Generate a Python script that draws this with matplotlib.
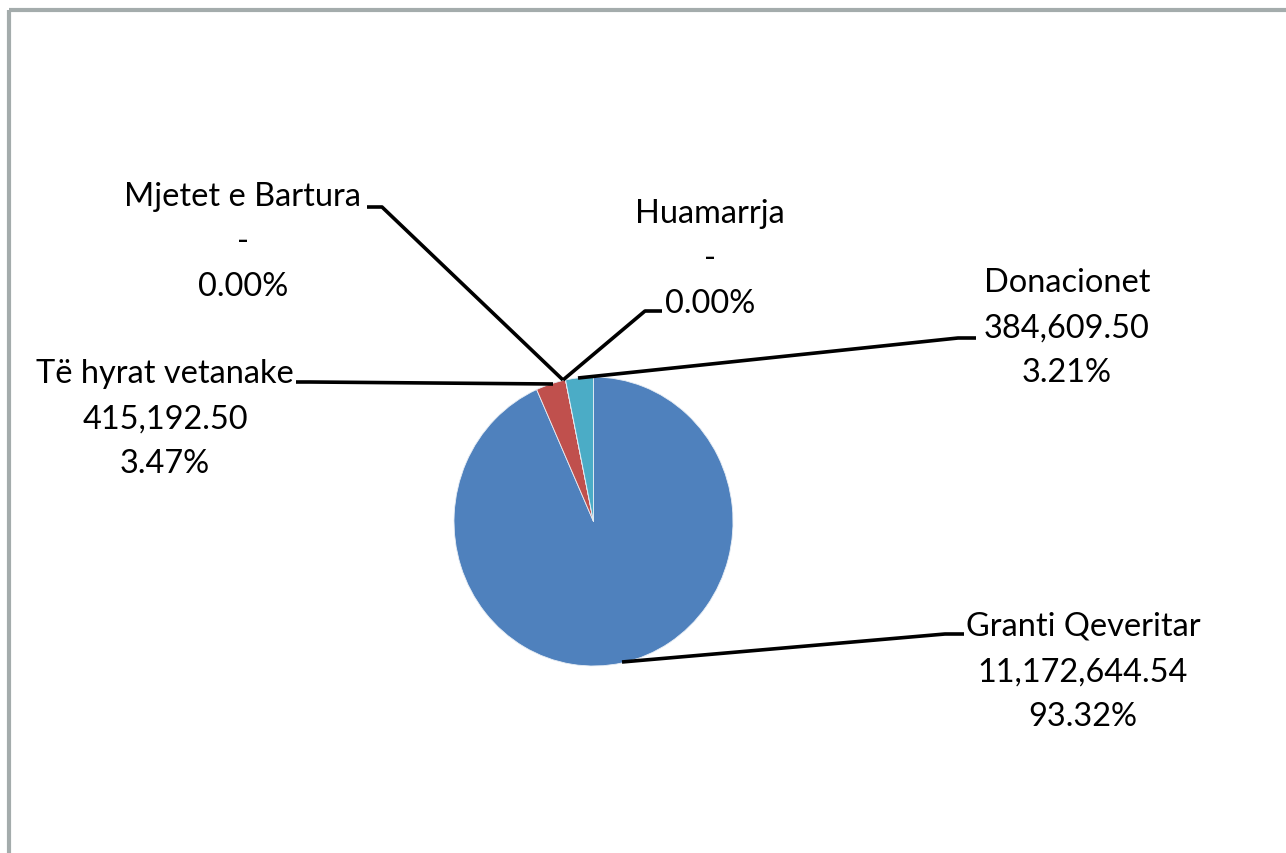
import numpy as np
import matplotlib.pyplot as plt
from matplotlib.patches import Rectangle

# datos
categorias = ["Granti Qeveritar", "Të hyrat vetanake", "Mjetet e Bartura",
              "Huamarrja", "Donacionet"]
valores = [11172644.54, 415192.50, 0.0, 0.0, 384609.50]
colores = ["#4F81BD", "#C0504D", "#9BBB59", "#8064A2", "#4BACC6"]

W, H = 1286, 854
fig = plt.figure(figsize=(W / 100, H / 100), dpi=100)
fig.patch.set_facecolor("white")

# pie (en píxeles: x 454-733, y 378-667)
ax_pie = fig.add_axes([454 / W, (H - 667) / H, 279 / W, 289 / H])
ax_pie.pie(valores, colors=colores, startangle=90, counterclock=False,
           radius=1.0, wedgeprops=dict(linewidth=0.6, edgecolor="#e8eef5"))
ax_pie.set_aspect("auto")
ax_pie.set_xlim(-1, 1)
ax_pie.set_ylim(-1, 1)
ax_pie.axis("off")

# capa superior en coordenadas de píxel
ax = fig.add_axes([0, 0, 1, 1], zorder=5)
ax.set_xlim(0, W)
ax.set_ylim(H, 0)
ax.axis("off")
ax.patch.set_alpha(0)

# marco gris
ax.add_patch(Rectangle((9, 11), W + 20, H + 20, fill=False,
                       edgecolor="#a4acac", linewidth=3.0, clip_on=False))

total = sum(valores)

def etiqueta(nombre, v):
    pct = 100 * v / total
    txt_v = f"{v:,.2f}" if v > 0 else "-"
    return f"{nombre}\n{txt_v}\n{pct:.2f}%"

# posiciones de etiquetas (centro de la primera línea) y líneas guía
pos_texto = [(1083, 626), (165, 373), (243, 196), (710, 213), (1067, 282)]
guias = [
    [(622, 663), (945, 635), (964, 635)],
    [(553, 385), (310, 383), (296, 383)],
    [(563, 381), (382, 208), (367, 208)],
    [(563, 381), (645, 312), (662, 312)],
    [(578, 379), (958, 339), (976, 339)],
]

for nombre, v, (x, y), g in zip(categorias, valores, pos_texto, guias):
    gx, gy = zip(*g)
    ax.plot(gx, gy, color="black", linewidth=2.6, solid_capstyle="butt")
    ax.text(x, y - 14, etiqueta(nombre, v), ha="center", va="top",
            fontsize=23.4, family="Lato", linespacing=1.63, color="black")

plt.savefig("out.png", dpi=100)
